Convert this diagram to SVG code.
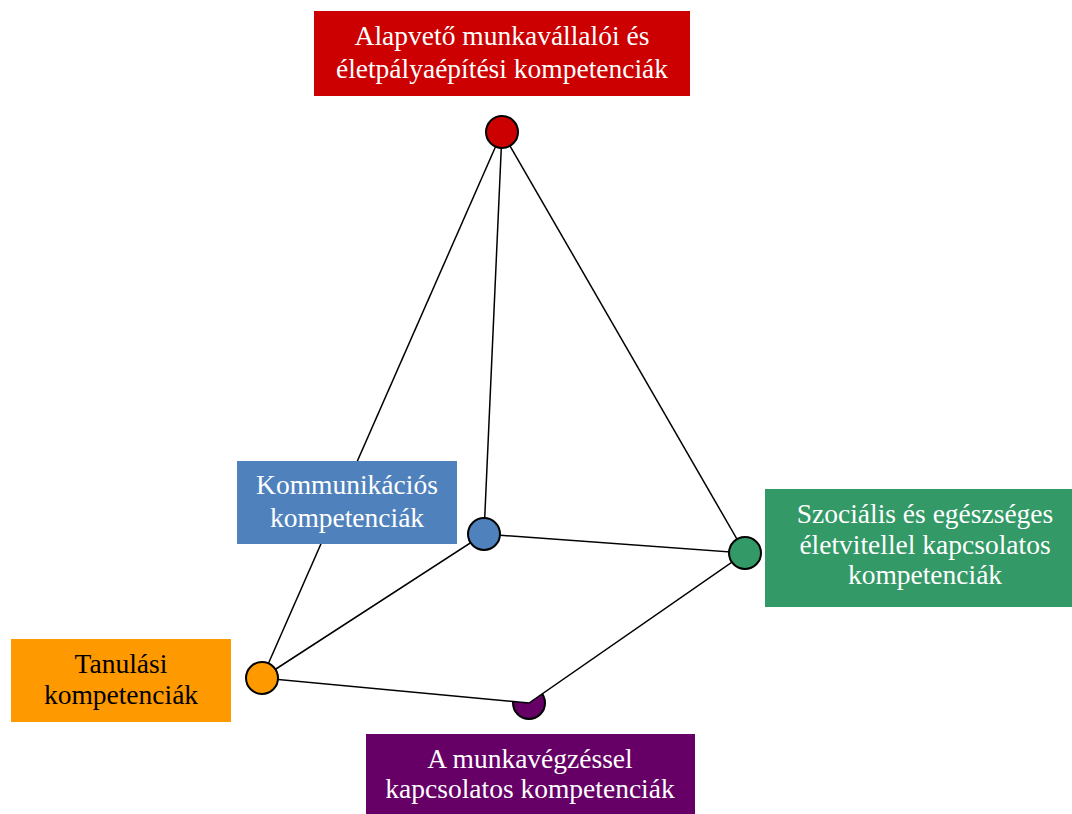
<svg xmlns="http://www.w3.org/2000/svg" width="1072" height="814" viewBox="0 0 1072 814">
<style>
.t{font-family:"Liberation Serif","Times New Roman",serif;font-size:27.5px;text-anchor:middle;fill:#fff}
.tk{fill:#000}
.c{stroke:#000;stroke-width:2}
.e{stroke:#000;stroke-width:1.5;fill:none}
</style>
<rect width="1072" height="814" fill="#fff"/>
<g id="purple-node-dot"><circle class="c" cx="529" cy="703" r="16" fill="#660066"/></g>
<g id="connectors">
<polygon points="262,678 484,534 745,553 529,703" fill="#fff" stroke="#000" stroke-width="1.5"/>
<line class="e" x1="502" y1="132" x2="262" y2="678"/>
<line class="e" x1="502" y1="132" x2="484" y2="534"/>
<line class="e" x1="502" y1="132" x2="745" y2="553"/>
</g>
<g id="dots">
<circle class="c" cx="502" cy="132" r="16" fill="#cc0000"/>
<circle class="c" cx="484" cy="534" r="16" fill="#4f81bd"/>
<circle class="c" cx="745" cy="553" r="16" fill="#339966"/>
<circle class="c" cx="262" cy="678" r="16" fill="#ff9900"/>
</g>
<g id="red">
<rect x="314" y="11" width="376" height="85" fill="#cc0000"/>
<text class="t" x="502" y="45">Alapvető munkavállalói és</text>
<text class="t" x="502" y="78">életpályaépítési kompetenciák</text>
</g>
<g id="blue">
<rect x="237" y="461" width="220" height="83" fill="#4f81bd"/>
<text class="t" x="347" y="494">Kommunikációs</text>
<text class="t" x="347" y="527">kompetenciák</text>
</g>
<g id="green">
<rect x="765" y="489" width="307" height="118" fill="#339966"/>
<text class="t" x="925" y="523">Szociális és egészséges</text>
<text class="t" x="925" y="554">életvitellel kapcsolatos</text>
<text class="t" x="925" y="584">kompetenciák</text>
</g>
<g id="orange">
<rect x="11" y="639" width="220" height="83" fill="#ff9900"/>
<text class="t tk" x="121" y="673">Tanulási</text>
<text class="t tk" x="121" y="704">kompetenciák</text>
</g>
<g id="purple">
<rect x="366" y="734" width="329" height="80" fill="#660066"/>
<text class="t" x="530" y="768">A munkavégzéssel</text>
<text class="t" x="530" y="798">kapcsolatos kompetenciák</text>
</g>
</svg>
